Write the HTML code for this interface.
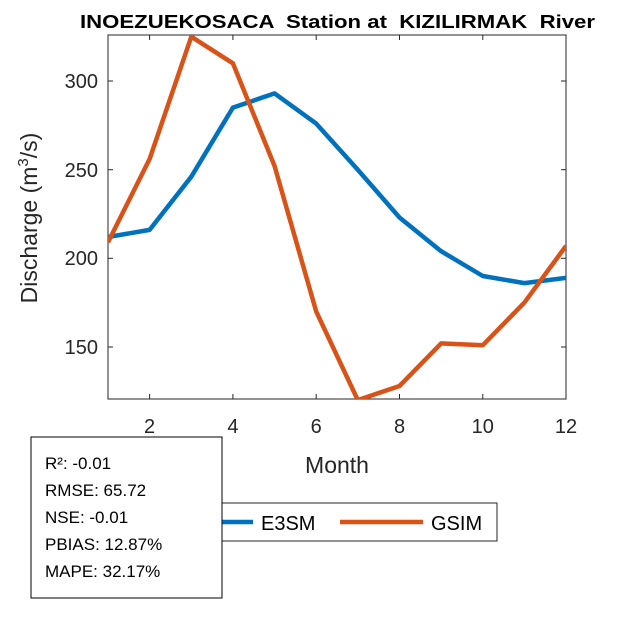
<!DOCTYPE html>
<html><head><meta charset="utf-8"><style>
html,body{margin:0;padding:0;background:#fff;}
svg{display:block;font-family:"Liberation Sans",Arial,sans-serif;}
</style></head><body>
<svg width="625" height="625" viewBox="0 0 625 625" xmlns="http://www.w3.org/2000/svg">
<rect width="625" height="625" fill="#fff"/>
<text x="80" y="28" font-size="18" font-weight="bold" fill="#000" style="white-space:pre" xml:space="preserve" textLength="515" lengthAdjust="spacingAndGlyphs">INOEZUEKOSACA  Station at  KIZILIRMAK  River</text>
<g stroke="#262626" stroke-width="1" fill="none">
<rect x="108" y="35" width="458" height="364"/>
<g>
<line x1="149.6" y1="399" x2="149.6" y2="394"/><line x1="232.9" y1="399" x2="232.9" y2="394"/>
<line x1="316.2" y1="399" x2="316.2" y2="394"/><line x1="399.5" y1="399" x2="399.5" y2="394"/>
<line x1="482.8" y1="399" x2="482.8" y2="394"/>
<line x1="149.6" y1="35" x2="149.6" y2="40"/><line x1="232.9" y1="35" x2="232.9" y2="40"/>
<line x1="316.2" y1="35" x2="316.2" y2="40"/><line x1="399.5" y1="35" x2="399.5" y2="40"/>
<line x1="482.8" y1="35" x2="482.8" y2="40"/>
<line x1="108" y1="81" x2="113" y2="81"/><line x1="108" y1="169.7" x2="113" y2="169.7"/>
<line x1="108" y1="258.3" x2="113" y2="258.3"/><line x1="108" y1="347" x2="113" y2="347"/>
<line x1="566" y1="81" x2="561" y2="81"/><line x1="566" y1="169.7" x2="561" y2="169.7"/>
<line x1="566" y1="258.3" x2="561" y2="258.3"/><line x1="566" y1="347" x2="561" y2="347"/>
</g></g>
<g font-size="20" fill="#262626" text-anchor="end">
<text x="98" y="88">300</text><text x="98" y="177">250</text><text x="98" y="265">200</text><text x="98" y="354">150</text>
</g>
<g font-size="20" fill="#262626" text-anchor="middle">
<text x="149.6" y="433">2</text><text x="232.9" y="433">4</text><text x="316.2" y="433">6</text>
<text x="399.5" y="433">8</text><text x="482.8" y="433">10</text><text x="566" y="433">12</text>
</g>
<text x="337" y="473" font-size="23" fill="#262626" text-anchor="middle">Month</text>
<text transform="translate(37,218) rotate(-90)" font-size="23" fill="#262626" text-anchor="middle">Discharge (m<tspan font-size="15" dy="-9">3</tspan><tspan dy="9">/s)</tspan></text>
<svg x="108" y="35" width="458" height="364" overflow="hidden">
<g transform="translate(-108,-35)" fill="none" stroke-width="4.5" stroke-linejoin="round">
<polyline stroke="#0072BD" points="108,237 149.6,229.9 191.3,176.7 232.9,107.6 274.6,93.4 316.2,123.6 357.8,169.7 399.5,217.5 441.1,251.2 482.8,276 524.4,283.1 566,277.8"/>
<polyline stroke="#D95319" points="108,242.3 149.6,159 191.3,36.7 232.9,63.3 274.6,166.1 316.2,311.5 357.8,400.1 399.5,386 441.1,343.4 482.8,345.2 524.4,302.6 566,245.9"/>
</g></svg>
<rect x="162" y="503" width="335" height="38" fill="#fff" stroke="#262626" stroke-width="1"/>
<line x1="170" y1="522" x2="253" y2="522" stroke="#0072BD" stroke-width="4.5"/>
<text x="261" y="530" font-size="20" fill="#000">E3SM</text>
<line x1="340" y1="522" x2="423" y2="522" stroke="#D95319" stroke-width="4.5"/>
<text x="431" y="530" font-size="20" fill="#000">GSIM</text>
<rect x="31" y="437" width="191" height="161" fill="#fff" stroke="#000" stroke-width="1"/>
<g font-size="17" fill="#000">
<text x="45" y="469">R²: -0.01</text>
<text x="45" y="496">RMSE: 65.72</text>
<text x="45" y="523">NSE: -0.01</text>
<text x="45" y="550">PBIAS: 12.87%</text>
<text x="45" y="577">MAPE: 32.17%</text>
</g>
</svg>
</body></html>
